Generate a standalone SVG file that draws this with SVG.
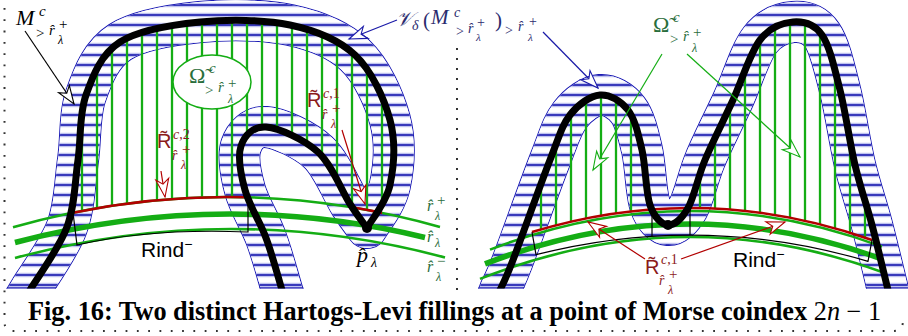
<svg xmlns="http://www.w3.org/2000/svg" width="908" height="336" viewBox="0 0 908 336">
<style>
.mi{font-family:"Liberation Serif","DejaVu Serif",serif;font-style:italic}
.rm{font-family:"Liberation Serif","DejaVu Serif",serif;font-style:normal}
.sf{font-family:"Liberation Sans","DejaVu Sans",sans-serif;font-style:normal}
.nv{fill:#2b2b6e}
.dg{fill:#2a6e3c}
.dr{fill:#8b1a1a}
.gv{fill:none;stroke:#14ad14;stroke-width:2.3}
.ga{fill:none;stroke:#14ad14;stroke-width:2.6}
.gt{fill:none;stroke:#14ad14;stroke-width:5.5}
.red{fill:none;stroke:#b20000;stroke-width:2.6}
.thin{fill:none;stroke:#000;stroke-width:1.2}
.curve{fill:none;stroke:#000;stroke-width:7;stroke-linejoin:round}
.arK{fill:none;stroke:#000;stroke-width:1.2;marker-end:url(#hK)}
.arB{fill:none;stroke:#1a1aa8;stroke-width:1.2;marker-end:url(#hB)}
.arG{fill:none;stroke:#14ad14;stroke-width:1.2;marker-end:url(#hG)}
.arR{fill:none;stroke:#b20000;stroke-width:1.2;marker-end:url(#hR)}
.dots{fill:none;stroke:#333;stroke-width:2;stroke-linecap:butt}
</style>
<defs>
<pattern id="hatch" patternUnits="userSpaceOnUse" width="10" height="10">
<rect width="10" height="10" fill="#fff"/>
<rect y="2.6" width="10" height="4.8" fill="#dcdef6"/>
<rect y="3.5" width="10" height="3" fill="#a3a8e8"/>
<rect y="4.25" width="10" height="1.5" fill="#1616ad"/>
</pattern>
<path id="cL" d="M21,305 L30,290 C36.2,279.5 59,248.7 67,227 C75,205.3 74.8,182 78,160 C81.2,138 79,114.7 86,95 C93,75.3 101,54.2 120,42 C139,29.8 171.7,24.8 200,22 C228.3,19.2 264.2,19.5 290,25 C315.8,30.5 338.3,39.2 355,55 C371.7,70.8 384.2,98.3 390,120 C395.8,141.7 393.8,167 390,185 C386.2,203 370.8,220.8 367,228 C364.2,224 358.2,216.7 350,204 C341.8,191.3 332,164.8 318,152 C304,139.2 278.8,128 266,127 C253.2,126 244.5,135.5 241,146 C237.5,156.5 240.8,174.7 245,190 C249.2,205.3 259.8,221.3 266,238 C272.3,254.7 279.3,281.3 282,290 L287,306"/>
<path id="cR" d="M494,306 L500,290 C502.2,285 504.7,281.7 513,260 C521.3,238.3 540.5,184.2 550,160 C559.5,135.8 561.7,125.8 570,115 C578.3,104.2 590.3,95.8 600,95 C609.7,94.2 621,100.8 628,110 C635,119.2 638.3,134.2 642,150 C645.7,165.8 645.7,192.5 650,205 C654.3,217.5 661.7,224.5 668,225 C674.3,225.5 681.8,218.8 688,208 C694.2,197.2 697.5,178 705,160 C712.5,142 723.8,120 733,100 C742.2,80 750,53 760,40 C770,27 782.7,22.8 793,22 C803.3,21.2 814.2,23.7 822,35 C829.8,46.3 834.5,68.3 840,90 C845.5,111.7 849.7,142.5 855,165 C860.3,187.5 866.5,204.2 872,225 C877.5,245.8 885.3,279.2 888,290 L892,306"/>
<clipPath id="cut"><rect x="0" y="0" width="908" height="288.5"/></clipPath>
<clipPath id="omL"><use href="#cL"/></clipPath>
<clipPath id="omR"><use href="#cR"/></clipPath>
<clipPath id="abL"><path d="M0,0 L457,0 L457,231.9 Q228.5,162.5 0,231 Z"/></clipPath>
<clipPath id="abR"><path d="M460,0 L908,0 L908,253.9 Q684,159.6 460,259.1 Z"/></clipPath>
<mask id="bandMask" maskUnits="userSpaceOnUse" x="0" y="0" width="908" height="336">
<use href="#cL" fill="none" stroke="#fff" stroke-width="42" stroke-linejoin="round"/>
<use href="#cR" fill="none" stroke="#fff" stroke-width="42" stroke-linejoin="round"/>
</mask>
<marker id="hK" markerUnits="userSpaceOnUse" viewBox="-20 -8 22 16" refX="0" refY="0" markerWidth="22" markerHeight="16" orient="auto" overflow="visible"><path d="M0,0 L-18,-6.5 L-13,0 L-18,6.5 Z" fill="#fff" stroke="#000" stroke-width="1.1"/></marker>
<marker id="hB" markerUnits="userSpaceOnUse" viewBox="-20 -8 22 16" refX="0" refY="0" markerWidth="22" markerHeight="16" orient="auto" overflow="visible"><path d="M0,0 L-18,-6.5 L-13,0 L-18,6.5 Z" fill="#fff" stroke="#1a1aa8" stroke-width="1.1"/></marker>
<marker id="hG" markerUnits="userSpaceOnUse" viewBox="-20 -8 22 16" refX="0" refY="0" markerWidth="22" markerHeight="16" orient="auto" overflow="visible"><path d="M0,0 L-18,-6.5 L-13,0 L-18,6.5 Z" fill="#fff" stroke="#14ad14" stroke-width="1.1"/></marker>
<marker id="hR" markerUnits="userSpaceOnUse" viewBox="-20 -8 22 16" refX="0" refY="0" markerWidth="22" markerHeight="16" orient="auto" overflow="visible"><path d="M0,0 L-18,-6.5 L-13,0 L-18,6.5 Z" fill="#fff" stroke="#b20000" stroke-width="1.1"/></marker>
</defs>
<rect width="908" height="336" fill="#fff"/>

<g id="frame">
<path class="dots" d="M4.5,8 V322 Q4.5,331 13,331 H894 Q902,331 903,322" stroke-dasharray="1.8 9.5"/>
<path class="dots" d="M457,48 V295" stroke-dasharray="2 8"/>
</g>

<g id="band-left">
<g clip-path="url(#cut)">
<use href="#cL" fill="none" stroke="#1a1ab4" stroke-width="42" stroke-linejoin="round"/>
<use href="#cL" fill="none" stroke="#fff" stroke-width="40" stroke-linejoin="round"/>
<use href="#cL" fill="none" stroke="url(#hatch)" stroke-width="40" stroke-linejoin="round"/>
</g>
</g>
<g id="band-right">
<g clip-path="url(#cut)">
<use href="#cR" fill="none" stroke="#1a1ab4" stroke-width="42" stroke-linejoin="round"/>
<use href="#cR" fill="none" stroke="#fff" stroke-width="40" stroke-linejoin="round"/>
<use href="#cR" fill="none" stroke="url(#hatch)" stroke-width="40" stroke-linejoin="round"/>
</g>
</g>
<path d="M0,287.8 H908" stroke="#1a1ab4" stroke-width="1.2" mask="url(#bandMask)"/>

<g id="omega-left-fill" clip-path="url(#omL)"><g clip-path="url(#abL)">
<path class="gv" d="M82,0V300M97,0V300M112,0V300M127,0V300M142,0V300M157,0V300M172,0V300M187,0V300M202,0V300M217,0V300M232,0V300M247,0V300M262,0V300M277,0V300M292,0V300M307,0V300M322,0V300M337,0V300M352,0V300M367,0V300M382,0V300"/>
</g></g>
<g id="omega-right-fill" clip-path="url(#omR)"><g clip-path="url(#abR)">
<path class="gv" d="M541,0V300M556,0V300M571,0V300M586,0V300M601,0V300M616,0V300M631,0V300M700,0V300M715,0V300M730,0V300M745,0V300M760,0V300M775,0V300M790,0V300M805,0V300M820,0V300M835,0V300M850,0V300M865,0V300"/>
</g></g>

<g id="levels-left">
<path class="ga" d="M13,227.2 Q226.5,166.9 440,226.9"/>
<path class="gt" d="M15,242.5 Q220,188.1 425,237.5"/>
<path class="ga" d="M15,258 Q230,200.2 445,257.5"/>
<path class="red" d="M73,212.65 Q160,194.96 247,197.26"/>
<path class="red" d="M352,207.3 Q367,209.8 382,212.86"/>
<path class="thin" d="M73,212.6 L77,245 Q150,228 248,232 L248,198"/>
</g>
<g id="levels-right">
<path class="ga" d="M490,249.6 Q686,173.9 882,246.6"/>
<path class="gt" d="M485,263.9 Q682.5,187 880,258.3"/>
<path class="ga" d="M480,278.9 Q681,198.7 882,272"/>
<path class="red" d="M532,232.1 Q702,180.2 872,240"/>
<path class="thin" d="M532,232.1 L536,254.7 Q702,212.3 868,261.3 L872,240"/>
<path class="thin" d="M652,212 V236.5 M690,207 V235"/>
</g>

<g id="curve-left" clip-path="url(#cut)"><use href="#cL" class="curve"/></g>
<g id="curve-right" clip-path="url(#cut)"><use href="#cR" class="curve"/></g>
<circle cx="367" cy="228" r="5" fill="#000"/>
<circle cx="668" cy="225" r="5" fill="#000"/>

<g id="omega-left">
<ellipse cx="212" cy="82" rx="39" ry="27" fill="#fff" stroke="#14ad14" stroke-width="1.5"/>
<text class="mi dg" font-size="15"><tspan class="rm" x="189" y="83" font-size="22">Ω&#x303;</tspan><tspan x="209" y="73">c</tspan><tspan class="rm" x="205" y="95">&gt;</tspan><tspan x="218" y="92">r&#x302;</tspan><tspan class="rm" x="228" y="88">+</tspan><tspan x="228" y="103" font-size="12">λ</tspan></text>
</g>

<g id="label-M">
<text class="mi" font-size="15"><tspan x="16" y="25" font-size="22">M</tspan><tspan x="39" y="16">c</tspan><tspan class="rm" x="36" y="38">&gt;</tspan><tspan x="49" y="35">r&#x302;</tspan><tspan class="rm" x="59" y="29">+</tspan><tspan x="58" y="44" font-size="12">λ</tspan></text>
</g>

<g id="label-V">
<text class="mi nv" font-size="14"><tspan x="396" y="26" font-size="20">𝒱</tspan><tspan x="412" y="30">δ</tspan><tspan class="rm" x="423" y="27" font-size="21">(</tspan><tspan x="431" y="24" font-size="21">M</tspan><tspan x="454" y="17">c</tspan><tspan class="rm" x="456" y="36">&gt;</tspan><tspan x="468" y="33">r&#x302;</tspan><tspan class="rm" x="477" y="27">+</tspan><tspan x="476" y="41" font-size="11">λ</tspan><tspan class="rm" x="495" y="27" font-size="21">)</tspan><tspan class="rm" x="505" y="35">&gt;</tspan><tspan x="518" y="31">r&#x302;</tspan><tspan class="rm" x="529" y="26">+</tspan><tspan x="528" y="41" font-size="11">λ</tspan></text>
</g>

<g id="label-R2">
<text class="mi dr" font-size="14"><tspan class="sf" x="157" y="148" font-size="20">R&#x303;</tspan><tspan x="173" y="139">c</tspan><tspan class="rm">,2</tspan><tspan x="172" y="160">r&#x302;</tspan><tspan class="rm" x="182" y="154" font-size="15">+</tspan><tspan x="181" y="169" font-size="12">λ</tspan></text>
</g>

<g id="label-R1-left">
<text class="mi dr" font-size="14"><tspan class="sf" x="307" y="107" font-size="20">R&#x303;</tspan><tspan x="323" y="98">c</tspan><tspan class="rm">,1</tspan><tspan x="322" y="119">r&#x302;</tspan><tspan class="rm" x="332" y="113" font-size="15">+</tspan><tspan x="331" y="128" font-size="12">λ</tspan></text>
</g>

<g id="label-levels-left">
<text class="mi dg" font-size="16"><tspan x="427" y="211">r&#x302;</tspan><tspan class="rm" x="437" y="205" font-size="15">+</tspan><tspan x="435" y="220" font-size="12">λ</tspan></text>
<text class="mi dg" font-size="16"><tspan x="427" y="242">r&#x302;</tspan><tspan x="435" y="247" font-size="12">λ</tspan></text>
<text class="mi dg" font-size="16"><tspan x="427" y="272">r&#x302;</tspan><tspan class="rm" x="437" y="266" font-size="15">−</tspan><tspan x="436" y="281" font-size="12">λ</tspan></text>
</g>

<g id="label-p">
<text class="mi" font-size="22"><tspan x="357" y="262">p&#x302;</tspan><tspan x="371" y="267" font-size="14">λ</tspan></text>
</g>

<g id="label-rind-left">
<text class="sf" x="141" y="257" font-size="21">Rind<tspan font-size="14" dy="-8">−</tspan></text>
</g>
<g id="label-rind-right">
<text class="sf" x="733" y="267" font-size="21">Rind<tspan font-size="14" dy="-8">−</tspan></text>
</g>

<g id="omega-right">
<text class="mi dg" font-size="15"><tspan class="rm" x="653" y="32" font-size="22">Ω&#x303;</tspan><tspan x="673" y="22">c</tspan><tspan class="rm" x="670" y="44">&gt;</tspan><tspan x="683" y="41">r&#x302;</tspan><tspan class="rm" x="693" y="37">+</tspan><tspan x="692" y="52" font-size="12">λ</tspan></text>
</g>

<g id="label-R1-right">
<text class="mi dr" font-size="14"><tspan class="sf" x="645" y="274" font-size="20">R&#x303;</tspan><tspan x="661" y="264">c</tspan><tspan class="rm">,1</tspan><tspan x="659" y="285">r&#x302;</tspan><tspan class="rm" x="669" y="279" font-size="15">+</tspan><tspan x="668" y="294" font-size="12">λ</tspan></text>
</g>

<g id="connectors">
<path class="arK" d="M25,31 L74,104"/>
<path class="arB" d="M397,20 L349,39"/>
<path class="arB" d="M543,32 L598,88"/>
<path class="arG" d="M662,54 L593,170"/>
<path class="arG" d="M687,54 L800,157"/>
<path class="arR" d="M161,171 L165,197"/>
<path class="arR" d="M342,130 L365,204"/>
<path class="arR" d="M645,259 L588,222"/>
<path class="arR" d="M681,259 L785,222"/>
</g>

<g id="caption">
<text class="rm" x="28" y="320" font-size="26.3" font-weight="bold">Fig. 16: Two distinct Hartogs-Levi fillings at a point of Morse coindex <tspan font-weight="normal">2</tspan><tspan font-weight="normal" font-style="italic">n</tspan><tspan font-weight="normal"> − 1</tspan></text>
</g>
</svg>
